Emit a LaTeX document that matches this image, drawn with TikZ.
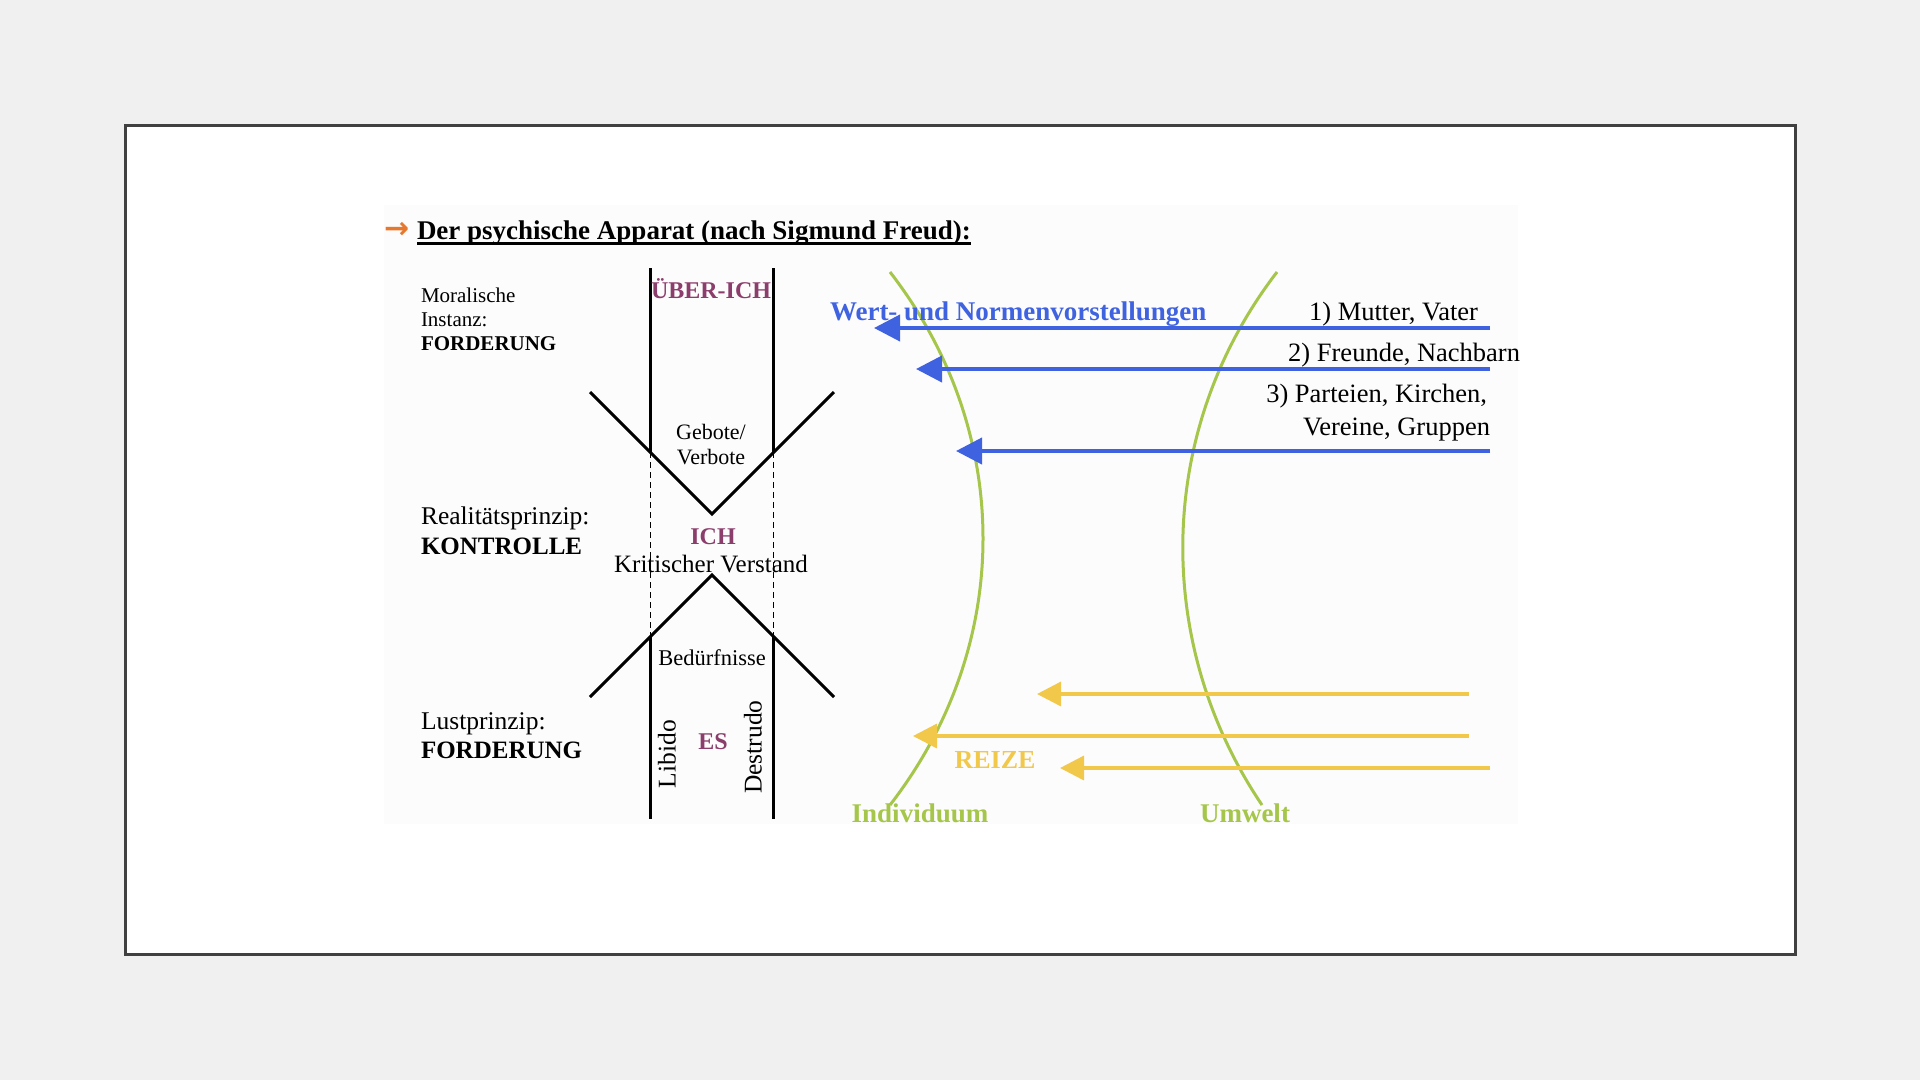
\documentclass[tikz,border=0pt]{standalone}
\usepackage{fontspec}
\setmainfont{Liberation Serif}
\newfontfamily\dejavu{DejaVu Sans}
\usetikzlibrary{arrows.meta}
\definecolor{bgGray}{HTML}{F0F0F0}
\definecolor{frameGray}{HTML}{404040}
\definecolor{imgGray}{HTML}{FCFCFC}
\definecolor{purp}{HTML}{8B3D6B}
\definecolor{bluA}{HTML}{3F62E0}
\definecolor{grn}{HTML}{A5C64A}
\definecolor{yel}{HTML}{F2C84B}
\definecolor{orng}{HTML}{E8772E}
\newcommand\myfs[1]{\fontsize{#1pt}{#1pt}\selectfont}
\begin{document}
\begin{tikzpicture}[x=1pt,y=-1pt,
  txt/.style={inner sep=0pt, outer sep=0pt},
  blk/.style={line width=3pt, black},
  dsh/.style={line width=1pt, black, dash pattern=on 6pt off 4pt},
  bArrow/.style={line width=4pt, bluA, -{Triangle[length=26pt,width=26pt]}},
  yArrow/.style={line width=3.5pt, yel, -{Triangle[length=24pt,width=24pt]}},
  gCurve/.style={line width=3pt, grn},
]
\useasboundingbox (0,0) rectangle (1920,1080);
\fill[bgGray] (0,0) rectangle (1920,1080);
\draw[frameGray, line width=3pt, fill=white] (125,125) rectangle (1795,954);
\fill[imgGray] (384,205) rectangle (1518,824);

% title
\node[txt, anchor=base west, font={\myfs{30}\dejavu\bfseries}, text=orng] (arr) at (384,238) {→};
\node[txt, anchor=base west, font={\myfs{27}\bfseries}] (title) at (417,239) {Der psychische Apparat (nach Sigmund Freud):};
\draw[line width=2.6pt] ([yshift=-4.5pt]title.base west) -- ([yshift=-4.5pt]title.base east);

% left labels
\node[txt, anchor=base west, font={\myfs{21}}] (mor) at (421,302) {Moralische};
\node[txt, anchor=base west, font={\myfs{21}}] (ins) at (421,326) {Instanz:};
\node[txt, anchor=base west, font={\myfs{21}\bfseries}] (ford1) at (421,350) {FORDERUNG};
\node[txt, anchor=base west, font={\myfs{25.5}}] (real) at (421,524) {Realitätsprinzip:};
\node[txt, anchor=base west, font={\myfs{25}\bfseries}] (kon) at (421,554) {KONTROLLE};
\node[txt, anchor=base west, font={\myfs{25.5}}] (lust) at (421,729) {Lustprinzip:};
\node[txt, anchor=base west, font={\myfs{25}\bfseries}] (ford2) at (421,758) {FORDERUNG};

% structure lines
\coordinate (lT) at (650,268); \coordinate (lV) at (650,452);
\coordinate (lL) at (650,636); \coordinate (lB) at (650,819);
\coordinate (rT) at (773,268); \coordinate (rV) at (773,452);
\coordinate (rL) at (773,636); \coordinate (rB) at (773,819);
\coordinate (v1) at (590,392); \coordinate (v2) at (712,514); \coordinate (v3) at (834,392);
\coordinate (a1) at (590,697); \coordinate (a2) at (712,575); \coordinate (a3) at (834,697);
\draw[blk] (lT) -- (lV); \draw[dsh] (lV) -- (lL); \draw[blk] (lL) -- (lB);
\draw[blk] (rT) -- (rV); \draw[dsh] (rV) -- (rL); \draw[blk] (rL) -- (rB);
\draw[blk] (v1) -- (v2) -- (v3);
\draw[blk] (a1) -- (a2) -- (a3);

% centre texts
\node[txt, anchor=base, font={\myfs{24}\bfseries}, text=purp] (ueber) at (711,298) {ÜBER-ICH};
\node[txt, anchor=base, font={\myfs{22}}] (geb) at (711,439) {Gebote/};
\node[txt, anchor=base, font={\myfs{22}}] (verb) at (711,464) {Verbote};
\node[txt, anchor=base, font={\myfs{24}\bfseries}, text=purp] (ich) at (713,544) {ICH};
\node[txt, anchor=base, font={\myfs{25}}] (krit) at (711,572) {Kritischer Verstand};
\node[txt, anchor=base, font={\myfs{22.5}}] (bed) at (712,665) {Bedürfnisse};
\node[txt, anchor=base, font={\myfs{24}\bfseries}, text=purp] (es) at (713,749) {ES};
\node[txt, rotate=90, font={\myfs{25.5}}] (lib) at (667,754) {Libido};
\node[txt, rotate=90, font={\myfs{25.5}}] (des) at (753,747) {Destrudo};

% green curves
\coordinate (iT) at (890,272); \coordinate (iB) at (890,805);
\coordinate (uT) at (1277,272); \coordinate (uB) at (1262,805);
\draw[gCurve] (iT) .. controls (1014,432) and (1014,645) .. (iB);
\draw[gCurve] (uT) .. controls (1154,432) and (1154,645) .. (uB);
\node[txt, anchor=base, font={\myfs{27}\bfseries}, text=grn] (ind) at (920,822) {Individuum};
\node[txt, anchor=base, font={\myfs{27}\bfseries}, text=grn] (umw) at (1245,822) {Umwelt};

% blue arrows
\node[txt, anchor=base west, font={\myfs{27}\bfseries}, text=bluA] (wert) at (830,320) {Wert- und Normenvorstellungen};
\node[txt, anchor=base east, font={\myfs{26.5}}] (n1) at (1478,320) {1) Mutter, Vater};
\node[txt, anchor=base east, font={\myfs{26.5}}] (n2) at (1520,361) {2) Freunde, Nachbarn};
\node[txt, anchor=base east, font={\myfs{26.5}}] (n3a) at (1487,402) {3) Parteien, Kirchen,};
\node[txt, anchor=base east, font={\myfs{26.5}}] (n3b) at (1490,435) {Vereine, Gruppen};
\coordinate (b1s) at (1490,328); \coordinate (b1e) at (874,328);
\coordinate (b2s) at (1490,369); \coordinate (b2e) at (916,369);
\coordinate (b3s) at (1490,451); \coordinate (b3e) at (956,451);
\draw[bArrow] (b1s) -- (b1e);
\draw[bArrow] (b2s) -- (b2e);
\draw[bArrow] (b3s) -- (b3e);

% yellow arrows
\coordinate (y1s) at (1469,694); \coordinate (y1e) at (1037,694);
\coordinate (y2s) at (1469,736); \coordinate (y2e) at (913,736);
\coordinate (y3s) at (1490,768); \coordinate (y3e) at (1060,768);
\draw[yArrow] (y1s) -- (y1e);
\draw[yArrow] (y2s) -- (y2e);
\draw[yArrow] (y3s) -- (y3e);
\node[txt, anchor=base, font={\myfs{26}\bfseries}, text=yel] (reize) at (995,768) {REIZE};
\end{tikzpicture}
\end{document}
